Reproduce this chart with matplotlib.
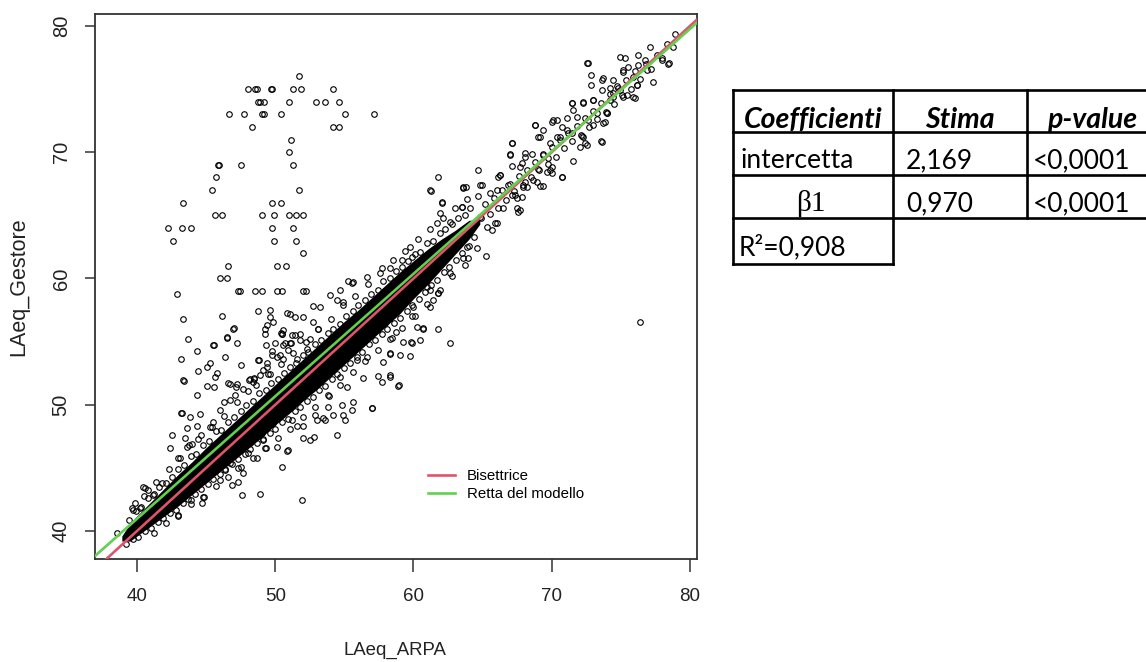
# -*- coding: utf-8 -*-
"""
LAeq ARPA vs LAeq Gestore
scatter con bisettrice, retta del modello e tabella dei coefficienti
"""

import matplotlib
matplotlib.use("Agg")
import matplotlib.pyplot as plt
from matplotlib.lines import Line2D

# ---- coefficienti del modello ----
intercetta = 2.169
beta1 = 0.970
tab_header = ["Coefficienti", "Stima", "p-value"]
tab_rows = [["intercetta", "2,169", "<0,0001"],
            ["\u03b21", "0,970", "<0,0001"]]
r2_text = "R\u00b2=0,908"

# ---- nucleo denso della nuvola (zona tutta nera) ----
core_arpa = [38.9, 39.5, 40, 41, 42, 43, 44, 45, 46, 47, 48, 49, 50, 51, 52,
             53, 54, 55, 56, 57, 58, 59, 60, 61, 62, 63, 64, 64.8]
core_lo = [39.2, 39.2, 39.6, 40.4, 41.2, 42.0, 42.9, 43.8, 44.7, 45.6, 46.5,
           47.4, 48.4, 49.3, 50.3, 51.2, 52.2, 53.2, 54.2, 55.2, 56.2, 57.2,
           58.4, 59.5, 60.7, 61.9, 63.1, 64.3]
core_hi = [39.6, 40.6, 41.2, 42.3, 43.4, 44.5, 45.5, 46.6, 47.6, 48.6, 49.6,
           50.6, 51.6, 52.6, 53.6, 54.6, 55.6, 56.6, 57.5, 58.5, 59.5, 60.5,
           61.4, 62.3, 63.1, 63.8, 64.6, 64.7]

# ---- punti sul bordo del nucleo ----
edge_pts = [
    (39.4, 40.9), (39.9, 41.6), (40.3, 41.9), (40.8, 42.6), (41.2, 42.9), (41.6, 43.5),
    (42.1, 43.8), (42.5, 44.3), (43.0, 44.9), (43.4, 45.2), (43.9, 45.9), (44.3, 46.1),
    (44.8, 46.8), (45.2, 47.1), (45.7, 47.9), (46.1, 48.0), (46.6, 48.6), (47.0, 49.0),
    (47.5, 49.5), (47.9, 50.0), (48.4, 50.3), (48.8, 50.9), (49.3, 51.2), (49.7, 51.7),
    (50.2, 52.0), (50.6, 52.5), (51.1, 53.0), (51.5, 53.3), (52.0, 53.9), (52.4, 54.2),
    (52.9, 54.8), (53.3, 55.1), (53.8, 55.7), (54.2, 56.0), (54.7, 56.4), (55.1, 57.0),
    (55.6, 57.4), (56.0, 57.9), (56.5, 58.3), (56.9, 58.8), (57.4, 59.1), (57.8, 59.8),
    (58.3, 60.0), (58.7, 60.6), (59.2, 60.9), (59.6, 61.4), (60.1, 61.9), (60.5, 62.1),
    (61.0, 62.8), (61.4, 63.0), (61.9, 63.6), (62.3, 63.9), (62.8, 64.3), (63.2, 64.8),
    (63.7, 65.0), (64.1, 65.6),
    (39.2, 39.0), (39.7, 39.4), (40.1, 39.5), (40.6, 40.0), (41.0, 40.2), (41.5, 40.7),
    (41.9, 41.0), (42.4, 41.4), (42.8, 41.7), (43.3, 42.2), (43.7, 42.5), (44.2, 42.9),
    (44.6, 43.3), (45.1, 43.7), (45.5, 44.1), (46.0, 44.5), (46.4, 44.9), (46.9, 45.3),
    (47.3, 45.7), (47.8, 46.1), (48.2, 46.5), (48.7, 47.0), (49.1, 47.3), (49.6, 47.8),
    (50.0, 48.1), (50.5, 48.6), (50.9, 48.9), (51.4, 49.5), (51.8, 49.8), (52.3, 50.3),
    (52.7, 50.6), (53.2, 51.2), (53.6, 51.5), (54.1, 52.0), (54.5, 52.4), (55.0, 52.9),
    (55.4, 53.3), (55.9, 53.8), (56.3, 54.2), (56.8, 54.8), (57.2, 55.1), (57.7, 55.6),
    (58.1, 56.0), (58.6, 56.5), (59.0, 56.9), (59.5, 57.4), (59.9, 57.9), (60.4, 58.4),
    (60.8, 58.9), (61.3, 59.5), (61.7, 59.9), (62.2, 60.5), (62.6, 60.9), (63.1, 61.5),
    (63.5, 62.0), (64.0, 62.6), (64.4, 63.3),
    (40.5, 42.8), (41.4, 43.9), (42.3, 44.9), (43.1, 45.8), (44.0, 46.9), (44.6, 47.6),
    (45.4, 48.2), (46.3, 49.1), (47.2, 50.2), (48.0, 51.1), (48.6, 51.6), (49.5, 52.4),
    (50.4, 53.2), (51.3, 54.1), (52.2, 55.0), (53.1, 56.0), (54.0, 56.8), (54.9, 57.9),
    (55.8, 58.6), (56.7, 59.6), (57.6, 60.4), (58.5, 61.5), (59.4, 62.2), (60.3, 63.1),
    (61.2, 63.9), (62.1, 64.8), (63.0, 65.6), (63.9, 66.3), (64.7, 66.5),
    (41.2, 39.8), (42.1, 40.6), (43.0, 41.3), (43.9, 42.1), (44.8, 42.7), (45.7, 43.6),
    (46.6, 44.3), (47.5, 45.1), (48.4, 45.8), (49.3, 46.6), (50.2, 47.4), (51.1, 48.1),
    (52.0, 49.0), (52.9, 49.8), (53.8, 50.8), (54.7, 51.6), (55.6, 52.6), (56.5, 53.5),
    (57.4, 54.3), (58.3, 55.2), (59.2, 56.1), (60.1, 57.0), (61.0, 58.0), (61.9, 59.1),
    (62.8, 60.2), (63.7, 61.1), (64.6, 62.4),
]

# ---- valori anomali in alto a sinistra (Gestore a valori interi) ----
outlier_pts = [
    (51.74, 76),
    (48.0, 75), (48.54, 75), (48.7, 75), (49.67, 75), (49.8, 75), (51.31, 75), (51.86, 75), (54.15, 75),
    (48.78, 74), (48.92, 74), (49.21, 74), (50.99, 74), (52.92, 74), (53.6, 74), (54.61, 74),
    (46.68, 73), (47.76, 73), (49.02, 73), (49.21, 73), (50.42, 73), (55.05, 73), (57.17, 73),
    (48.29, 72), (54.15, 72), (54.61, 72),
    (51.14, 71), (50.99, 70),
    (45.83, 69), (45.93, 69), (47.52, 69), (51.31, 69),
    (45.69, 68), (45.40, 67), (51.74, 67),
    (43.30, 66), (49.74, 66), (50.42, 66),
    (45.64, 65), (46.17, 65), (49.07, 65), (49.91, 65), (50.99, 65), (51.48, 65), (51.98, 65),
    (42.22, 64), (43.23, 64), (43.88, 64), (49.74, 64), (51.31, 64),
    (42.63, 63), (49.91, 63), (51.48, 63),
    (51.98, 62),
    (46.61, 61), (50.15, 61), (50.75, 61),
    (46.0, 60), (46.49, 60),
    (47.28, 59), (47.45, 59), (48.54, 59), (49.07, 59), (50.15, 59), (50.46, 59), (51.98, 59), (52.22, 59),
    (42.87, 58.8),
]

# ---- punti sparsi sopra il nucleo ----
above_pts = [
    (43.31, 56.77), (43.71, 55.18), (44.32, 54.28), (43.16, 53.62), (43.35, 51.96), (43.23, 49.37),
    (46.13, 57.03), (46.97, 56.0), (47.21, 54.87), (45.52, 54.73), (46.53, 55.26), (48.77, 57.43),
    (49.62, 57.5), (49.62, 56.97), (49.38, 56.32), (49.26, 56.0), (50.42, 55.7), (50.83, 57.24),
    (52.03, 56.97), (52.71, 57.8), (53.25, 57.77), (47.02, 56.1), (47.52, 53.15), (47.16, 51.43),
    (51.07, 57.19), (53.96, 58.69), (55.29, 59.8), (55.55, 59.67), (49.26, 55.6), (50.51, 55.6),
    (49.98, 54.9), (50.71, 54.9), (51.14, 54.9), (51.43, 55.5), (51.79, 55.13), (48.82, 53.54),
    (48.17, 52.06), (48.49, 52.06), (46.73, 51.64), (47.2, 51.64), (46.49, 55.34), (45.59, 54.73),
    (46.37, 53.8), (48.77, 53.54), (50.47, 55.58), (50.58, 54.73), (51.07, 54.87), (49.31, 54.73),
    (49.74, 54.28), (50.1, 53.8), (50.58, 53.6), (45.04, 53.01), (45.28, 53.28), (45.81, 52.54),
    (45.64, 52.22), (44.39, 52.67), (43.4, 51.91), (45.04, 51.49), (45.59, 51.43), (46.6, 51.7),
    (47.09, 50.77), (44.36, 50.77), (48.48, 52.1), (48.12, 51.96), (49.14, 52.75), (49.38, 53.28),
    (43.18, 49.37), (43.83, 49.0), (44.56, 49.27), (44.36, 48.32), (43.64, 48.14), (42.51, 47.6),
    (42.39, 46.55), (43.47, 47.34), (43.6, 46.68), (43.76, 46.81), (42.99, 45.76), (44.43, 47.26),
    (45.28, 48.26), (45.52, 48.66), (46.0, 49.58), (46.26, 50.24), (46.73, 50.38),
    (40.46, 43.51), (39.62, 41.8), (38.53, 39.82), (39.86, 42.19), (40.82, 43.25), (41.79, 43.78),
    (41.18, 42.85), (40.58, 43.38), (39.73, 41.66), (40.22, 41.8),
    (52.75, 56.55), (53.11, 56.02), (52.51, 55.23), (51.79, 55.63), (52.27, 54.44), (51.55, 53.65),
    (50.94, 54.31), (50.34, 53.92), (49.74, 53.92), (49.38, 52.99), (49.62, 52.46), (48.9, 52.33),
    (48.42, 51.8), (47.69, 51.27), (54.68, 59.09), (54.44, 58.3), (54.92, 58.16), (51.43, 56.98),
    (51.19, 55.53), (50.58, 55.92), (49.86, 56.58),
    (59.75, 62.52), (59.87, 61.73), (59.15, 61.47), (58.3, 60.81), (57.7, 60.81), (56.61, 60.14),
    (55.65, 59.75), (61.19, 67.0), (62.04, 66.0), (61.92, 65.16), (61.68, 64.37), (63.6, 67.27),
    (63.49, 65.69), (62.64, 64.5),
]

# ---- punti sparsi sotto il nucleo ----
below_pts = [
    (53.87, 50.69), (55.17, 51.43), (55.6, 50.24), (56.98, 49.77), (54.68, 52.17), (56.37, 52.09),
    (57.41, 52.3), (57.7, 51.83), (58.3, 52.36), (58.97, 51.56), (55.89, 53.54), (56.61, 53.8),
    (57.82, 53.41), (58.3, 54.02), (59.02, 53.94), (59.26, 55.0), (59.87, 54.92), (60.47, 55.13),
    (57.34, 55.92), (57.94, 56.45), (58.73, 55.79), (59.87, 57.03), (60.23, 56.18), (60.71, 56.05),
    (61.79, 56.0), (62.64, 54.86), (59.99, 57.77), (61.19, 57.77), (61.43, 58.3), (61.79, 58.83),
    (61.19, 59.09), (63.6, 61.6), (63.85, 62.52),
    (42.99, 41.21), (43.91, 42.46), (44.68, 42.19), (44.85, 42.72), (46.0, 44.04), (46.85, 43.64),
    (47.33, 43.9), (47.58, 42.85), (48.9, 42.93), (50.47, 45.09), (51.92, 42.46), (47.7, 44.57),
    (46.37, 44.83), (48.66, 45.76), (49.26, 46.55), (50.1, 46.68), (50.9, 46.42), (52.03, 47.35),
    (52.51, 47.22), (52.82, 47.48), (54.44, 47.62), (53.47, 48.93), (52.99, 48.82), (54.19, 49.2),
    (54.92, 49.2), (52.03, 48.28), (51.55, 48.28), (51.19, 48.82), (49.86, 48.54), (49.02, 47.75),
    (48.05, 46.17), (47.28, 44.97), (46.73, 45.37), (48.17, 46.95), (49.14, 47.22),
    (50.87, 46.34), (55.05, 48.79), (56.98, 49.72), (53.6, 48.79), (52.88, 49.19), (53.84, 49.85),
    (54.81, 49.98), (55.53, 49.58), (58.9, 51.49), (59.82, 55.0), (58.42, 55.26), (60.71, 56.0),
    (59.75, 53.86), (58.3, 54.07), (58.3, 52.22),
    (76.38, 56.58),
]

# ---- parte alta a destra (x > 63) ----
upper_pts = [
    (78.89, 79.37), (78.36, 78.57), (78.74, 78.36), (78.45, 77.04), (77.97, 77.31), (77.35, 75.59),
    (77.11, 78.31), (76.27, 77.7), (74.94, 77.57), (75.31, 77.44), (76.75, 77.31), (76.87, 76.51),
    (76.27, 76.91), (72.58, 77.1), (72.82, 76.12), (75.55, 76.78), (75.19, 76.38), (75.91, 75.99),
    (76.15, 75.33), (74.46, 75.72), (74.7, 75.25), (73.62, 75.72), (73.62, 74.93), (74.22, 75.06),
    (74.94, 74.93), (75.43, 74.53), (76.03, 74.27), (75.19, 74.4), (74.46, 74.4), (74.22, 74.14),
    (73.01, 74.14), (72.29, 74.0), (71.45, 73.87), (71.57, 73.35), (73.25, 73.08), (72.65, 72.55),
    (73.98, 73.08), (73.74, 72.29), (73.01, 72.16), (72.24, 71.23), (72.53, 70.57), (72.05, 70.44),
    (73.62, 70.84), (71.08, 72.69), (70.72, 72.03), (70.12, 72.55), (71.08, 71.76), (71.45, 71.5),
    (70.36, 71.23), (68.79, 72.16), (69.39, 71.76), (69.03, 71.23), (67.1, 70.7), (66.98, 69.86),
    (68.07, 69.65), (68.55, 69.86), (67.83, 69.12), (69.39, 69.86), (69.75, 69.52), (69.99, 68.8),
    (69.03, 68.67), (70.72, 68.07), (69.63, 68.4), (67.1, 68.93), (64.69, 68.6), (61.8, 68.07),
    (61.27, 66.95), (62.04, 66.03), (63.6, 67.19), (64.81, 67.41), (63.48, 65.69), (66.25, 68.2),
    (67.34, 66.61), (66.13, 68.07), (66.02, 67.01), (66.86, 67.41), (68.07, 67.67), (68.19, 67.27),
    (68.91, 67.67), (69.35, 67.33), (67.46, 66.35), (67.7, 65.43), (66.5, 65.56), (65.53, 66.75),
    (65.24, 61.81), (63.96, 61.6), (61.8, 58.83), (60.95, 59.35), (62.64, 60.41), (65.3, 64.1),
    (65.9, 64.37), (64.81, 64.9), (63.8, 67.22), (64.93, 67.41), (66.26, 68.2), (67.1, 70.76),
    (66.98, 69.8), (67.7, 68.87), (68.07, 69.93), (68.79, 72.16), (69.15, 71.23), (69.99, 72.42),
    (70.36, 72.55), (69.87, 70.71), (70.6, 71.23), (71.44, 73.87), (71.8, 72.82), (72.24, 73.92),
    (73.0, 74.14), (73.68, 75.86), (74.45, 74.67), (75.17, 76.51), (76.14, 75.33), (78.43, 76.99),
    (72.82, 75.33), (72.65, 77.04), (66.02, 64.37), (65.66, 63.84), (67.46, 65.56), (67.58, 65.29),
    (67.1, 66.61), (67.83, 66.48), (67.95, 67.27), (68.67, 67.8), (69.15, 67.33), (69.87, 68.6),
    (69.99, 68.34), (70.72, 68.07), (71.51, 69.33), (72.41, 70.71), (72.17, 71.29), (73.6, 70.89),
    (73.85, 72.42), (73.97, 73.08), (75.9, 74.4),
    (64.4, 64.2), (64.9, 64.8), (65.2, 65.9), (65.5, 65.1), (65.8, 66.4), (66.1, 65.6),
    (66.4, 67.0), (66.7, 66.2), (67.0, 67.5), (67.3, 66.9), (67.6, 68.1), (67.9, 67.4),
    (68.2, 68.6), (68.5, 68.0), (68.8, 69.2), (69.1, 68.6), (69.4, 69.8), (69.7, 69.1),
    (70.0, 70.4), (70.3, 69.6), (70.6, 71.0), (70.9, 70.3), (71.2, 71.5), (71.5, 70.9),
    (71.8, 72.1), (72.1, 71.4), (72.4, 72.7), (72.7, 72.0), (73.0, 73.3), (73.3, 72.6),
    (73.6, 73.9), (73.9, 73.2), (74.2, 74.6), (74.5, 73.8), (74.8, 75.1), (75.1, 74.5),
    (75.4, 75.7), (75.7, 75.0), (76.0, 76.4), (76.4, 75.8), (76.8, 77.0), (77.2, 76.6),
    (77.6, 77.7), (78.0, 77.5),
]

RED = "#DF536B"
GREEN = "#61D04F"
AXC = "#333333"


def plot_scatter(fig):
    ax = fig.add_axes([95 / 1146, 1 - 559 / 662, 602 / 1146, 545 / 662])

    # nucleo tutto nero
    ax.fill_between(core_arpa, core_lo, core_hi, color="black", lw=0, zorder=1)

    pts = edge_pts + outlier_pts + above_pts + below_pts + upper_pts
    xs = [p[0] for p in pts]
    ys = [p[1] for p in pts]
    ax.plot(xs, ys, "o", mfc="none", mec="black", ms=4.0, mew=0.8, zorder=2)

    # bisettrice e retta del modello
    ax.axline((40, 40), slope=1.0, color=RED, lw=1.9, zorder=3)
    ax.axline((0, intercetta), slope=beta1, color=GREEN, lw=1.9, zorder=3)

    ax.set_xlim(36.96, 80.51)
    ax.set_ylim(37.78, 80.95)
    ax.set_xticks([40, 50, 60, 70, 80])
    ax.set_yticks([40, 50, 60, 70, 80])

    for s in ax.spines.values():
        s.set_color(AXC)
        s.set_linewidth(1.3)
    ax.tick_params(axis="x", direction="out", length=9, width=1.1, color=AXC,
                   labelsize=13.5, labelcolor="#222222", pad=12)
    ax.tick_params(axis="y", direction="out", length=7.5, width=1.1, color=AXC,
                   labelsize=14.5, labelcolor="#222222", pad=10)
    for lab in ax.get_yticklabels():
        lab.set_rotation(90)
        lab.set_va("center")
    for lab in ax.get_xticklabels() + ax.get_yticklabels():
        lab.set_family("Liberation Sans")

    fig.text(395 / 1146, 1 - 642 / 662, "LAeq_ARPA", ha="center", va="top",
             fontsize=13.4, family="Liberation Sans", color="#222222")
    fig.text(19 / 1146, 1 - 287 / 662, "LAeq_Gestore", ha="center", va="center",
             rotation=90, fontsize=15.5, family="Liberation Sans", color="#222222")

    handles = [Line2D([], [], color=RED, lw=1.9), Line2D([], [], color=GREEN, lw=1.9)]
    ax.legend(handles, ["Bisettrice", "Retta del modello"], loc="upper left",
              bbox_to_anchor=(428 / 1146, 1 - 469 / 662), bbox_transform=fig.transFigure,
              frameon=False, handlelength=1.8, handletextpad=0.8, labelspacing=0.25,
              borderpad=0, borderaxespad=0,
              prop={"family": "Liberation Sans", "size": 10.8})
    return ax


def plot_table(fig):
    # asse in pixel su tutta la figura per la tabella
    tab = fig.add_axes([0, 0, 1, 1], facecolor="none")
    tab.set_xlim(0, 1146)
    tab.set_ylim(662, 0)
    tab.axis("off")

    lw = 1.9
    x0, x1, x2, x3 = 733, 893, 1027, 1160
    rows_y = [90, 132, 175, 218]
    for y in rows_y:
        tab.plot([x0, x3], [y, y], color="black", lw=lw, solid_capstyle="projecting")
    tab.plot([x0, x1], [264, 264], color="black", lw=lw, solid_capstyle="projecting")
    tab.plot([x0, x0], [90, 264], color="black", lw=lw, solid_capstyle="projecting")
    tab.plot([x1, x1], [90, 264], color="black", lw=lw, solid_capstyle="projecting")
    tab.plot([x2, x2], [90, 218], color="black", lw=lw, solid_capstyle="projecting")

    fs = 19
    hfont = dict(family="Lato", weight="bold", style="italic", fontsize=20.5, color="black")
    nfont = dict(family="Lato", fontsize=fs, color="black")

    # intestazione
    tab.text(813, 128, tab_header[0], ha="center", va="baseline", **hfont)
    tab.text(960, 128, tab_header[1], ha="center", va="baseline", **hfont)
    tab.text(1092, 128, tab_header[2], ha="center", va="baseline", **hfont)

    # righe
    base = [168, 211]
    for (name, est, pv), yb in zip(tab_rows, base):
        if name.startswith("\u03b2"):
            tab.text(811, yb, name, ha="center", va="baseline", family="Liberation Serif",
                     fontsize=fs + 2, color="black")
        else:
            tab.text(741, yb, name, ha="left", va="baseline", **nfont)
        tab.text(906, yb, est, ha="left", va="baseline", **nfont)
        tab.text(1033, yb, pv, ha="left", va="baseline", **nfont)
    tab.text(739, 255, r2_text, ha="left", va="baseline", **nfont)


if __name__ == "__main__":
    fig = plt.figure(figsize=(11.46, 6.62), dpi=100)
    plot_scatter(fig)
    plot_table(fig)
    fig.savefig("out.png", dpi=100)
